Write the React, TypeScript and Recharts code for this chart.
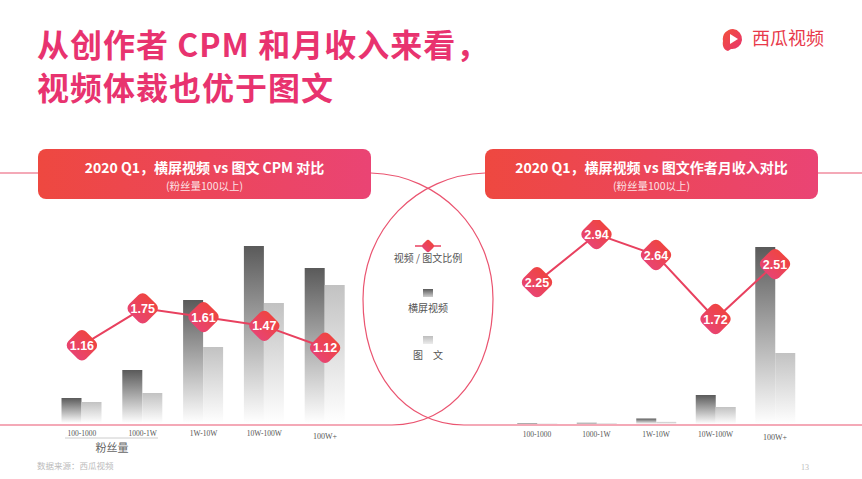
import { ComposedChart, Bar, Line, XAxis, YAxis } from "recharts";

// 粉丝量分档
const categories = ["100-1000", "1000-1W", "1W-10W", "10W-100W", "100W+"];

// CPM 对比
const cpmVideo = [25, 53, 123, 177, 155];
const cpmText = [21, 30, 76, 120, 138];
const cpmRatio = [1.16, 1.75, 1.61, 1.47, 1.12];

// 作者月收入对比
const incomeVideo = [0.5, 1.2, 5.5, 29, 177];
const incomeText = [0.22, 0.41, 2.1, 17, 71];
const incomeRatio = [2.25, 2.94, 2.64, 1.72, 2.51];

const PINK = "#e8336f";
const LINE = "#e8415f";
const SANS = "'Noto Sans CJK SC', 'Noto Sans', sans-serif";

const cpmData = categories.map((name, i) => ({
  name,
  video: cpmVideo[i],
  text: cpmText[i],
  ratio: cpmRatio[i],
}));

const incomeData = categories.map((name, i) => ({
  name,
  video: incomeVideo[i],
  text: incomeText[i],
  ratio: incomeRatio[i],
}));

function Defs({ id }: { id: string }) {
  return (
    <defs>
      <linearGradient id={`${id}-dark`} x1="0" y1="0" x2="0" y2="1">
        <stop offset="0%" stopColor="#5a5a5a" />
        <stop offset="100%" stopColor="#ffffff" />
      </linearGradient>
      <linearGradient id={`${id}-light`} x1="0" y1="0" x2="0" y2="1">
        <stop offset="0%" stopColor="#c2c2c2" />
        <stop offset="100%" stopColor="#ffffff" />
      </linearGradient>
      <linearGradient id={`${id}-mk`} x1="0" y1="0" x2="0" y2="1">
        <stop offset="0%" stopColor="#ef4441" />
        <stop offset="100%" stopColor="#e84472" />
      </linearGradient>
    </defs>
  );
}

function marker(id: string) {
  return (p: any) => {
    const { cx, cy, value, index } = p;
    if (cx == null || cy == null) return <g key={`mk-${index}`} />;
    const s = 25;
    return (
      <g key={`mk-${index}`}>
        <rect
          x={cx - s / 2}
          y={cy - s / 2}
          width={s}
          height={s}
          rx={6}
          fill={`url(#${id}-mk)`}
          transform={`rotate(45 ${cx} ${cy})`}
        />
        <text
          x={cx}
          y={cy + 4.5}
          textAnchor="middle"
          fill="#fff"
          fontSize={12.5}
          fontWeight={700}
          fontFamily="'Liberation Sans', Arial, sans-serif"
        >
          {Number(value).toFixed(2)}
        </text>
      </g>
    );
  };
}

function Tick(p: any) {
  const { x, y, payload, index } = p;
  const last = index === categories.length - 1;
  return (
    <text
      x={x}
      y={y + (last ? 16 : 13)}
      textAnchor="middle"
      fill="#555"
      fontSize={last ? 8 : 7.5}
      fontFamily="'Liberation Serif', 'DejaVu Serif', serif"
    >
      {payload.value}
    </text>
  );
}

function Chart({
  id,
  data,
  left,
  margin,
  axisHeight,
  barMax,
  ratioDomain,
}: {
  id: string;
  data: any[];
  left: number;
  margin: { top: number; right: number; bottom: number; left: number };
  axisHeight: number;
  barMax: number;
  ratioDomain: [number, number];
}) {
  return (
    <div style={{ position: "absolute", left, top: 220 }}>
      <ComposedChart
        width={330}
        height={230}
        data={data}
        margin={margin}
        barGap={0}
        barSize={20}
      >
        <Defs id={id} />
        <XAxis
          dataKey="name"
          axisLine={false}
          tickLine={false}
          tickSize={0}
          tickMargin={0}
          height={axisHeight}
          interval={0}
          tick={<Tick />}
        />
        <YAxis yAxisId="bar" hide domain={[0, barMax]} />
        <YAxis yAxisId="ratio" hide domain={ratioDomain} />
        <Bar
          yAxisId="bar"
          dataKey="video"
          fill={`url(#${id}-dark)`}
          isAnimationActive={false}
        />
        <Bar
          yAxisId="bar"
          dataKey="text"
          fill={`url(#${id}-light)`}
          isAnimationActive={false}
        />
        <Line
          yAxisId="ratio"
          dataKey="ratio"
          type="linear"
          stroke={LINE}
          strokeWidth={2}
          dot={marker(id)}
          activeDot={false}
          isAnimationActive={false}
        />
      </ComposedChart>
    </div>
  );
}

function Header({ left, title }: { left: number; title: string }) {
  return (
    <div
      style={{
        position: "absolute",
        left,
        top: 149,
        width: 333,
        height: 50,
        borderRadius: 8,
        background: "linear-gradient(90deg, #ee4840 0%, #ea4474 100%)",
        color: "#fff",
        textAlign: "center",
        fontFamily: SANS,
      }}
    >
      <div style={{ fontSize: 14, fontWeight: 700, marginTop: 8, lineHeight: "20px" }}>
        {title}
      </div>
      <div style={{ fontSize: 10.5, lineHeight: "17px", opacity: 0.85 }}>
        (粉丝量100以上)
      </div>
    </div>
  );
}

export default function App() {
  return (
    <div
      style={{
        position: "absolute",
        left: 0,
        top: 0,
        width: 862,
        height: 479,
        background: "#fff",
        overflow: "hidden",
        fontFamily: SANS,
      }}
    >
      {/* 背景线条 */}
      <svg
        width={862}
        height={479}
        style={{ position: "absolute", left: 0, top: 0 }}
      >
        <g fill="none" stroke="#ea5470" strokeWidth={1.2}>
          <path d="M 0 173 L 40 173" />
          <path d="M 816 173 L 862 173" />
          <path d="M 371 173 C 440 175, 493 230, 493 299 C 493 372, 452 425, 392 425 L 0 425" />
          <path d="M 485 173 C 416 175, 363 230, 363 299 C 363 372, 404 425, 464 425 L 862 425" />
        </g>
        <line x1={65} y1={438} x2={158} y2={438} stroke="#ccc" strokeWidth={1} />
        <text x={112} y={452} textAnchor="middle" fill="#666" fontSize={11}>
          粉丝量
        </text>
        <text x={37} y={469} fill="#bbb" fontSize={8.5}>
          数据来源：西瓜视频
        </text>
        <text
          x={805}
          y={470}
          textAnchor="middle"
          fill="#bbb"
          fontSize={8}
          fontFamily="'Liberation Serif', serif"
        >
          13
        </text>

        {/* logo */}
        <defs>
          <linearGradient id="logo" x1="0" y1="0" x2="1" y2="1">
            <stop offset="0%" stopColor="#f2513a" />
            <stop offset="100%" stopColor="#e8336f" />
          </linearGradient>
          <linearGradient id="lg-mk" x1="0" y1="0" x2="0" y2="1">
            <stop offset="0%" stopColor="#ef4441" />
            <stop offset="100%" stopColor="#e84472" />
          </linearGradient>
          <linearGradient id="lg-dark" x1="0" y1="0" x2="0" y2="1">
            <stop offset="0%" stopColor="#5a5a5a" />
            <stop offset="100%" stopColor="#cfcfcf" />
          </linearGradient>
          <linearGradient id="lg-light" x1="0" y1="0" x2="0" y2="1">
            <stop offset="0%" stopColor="#bdbdbd" />
            <stop offset="100%" stopColor="#ececec" />
          </linearGradient>
        </defs>
        <path
          d="M 733 29 A 10 10 0 1 1 731 49 L 728 51 C 724 50, 722 46, 723 41 A 10 10 0 0 1 733 29 Z"
          fill="url(#logo)"
        />
        <path d="M 730 34 L 738 39 L 730 44 Z" fill="#fff" />
        <text x={752} y={45} fill="#e8394a" fontSize={18}>
          西瓜视频
        </text>

        {/* 图例 */}
        <line x1={415} y1={246} x2={441} y2={246} stroke={LINE} strokeWidth={1.5} />
        <rect
          x={423}
          y={241}
          width={10}
          height={10}
          rx={2.5}
          fill="url(#lg-mk)"
          transform="rotate(45 428 246)"
        />
        <text x={428} y={262} textAnchor="middle" fill="#555" fontSize={10}>
          视频 / 图文比例
        </text>
        <rect x={423} y={289} width={10} height={8} fill="url(#lg-dark)" />
        <text x={428} y={312} textAnchor="middle" fill="#555" fontSize={10}>
          横屏视频
        </text>
        <rect x={423} y={336} width={10} height={8} fill="url(#lg-light)" />
        <text x={428} y={359} textAnchor="middle" fill="#555" fontSize={10}>
          图　文
        </text>
      </svg>

      {/* 标题 */}
      <div
        style={{
          position: "absolute",
          left: 37,
          top: 22,
          color: PINK,
          fontSize: 32,
          fontWeight: 700,
          lineHeight: "43px",
          letterSpacing: 1,
        }}
      >
        <div>从创作者 CPM 和月收入来看，</div>
        <div>视频体裁也优于图文</div>
      </div>

      <Header left={38} title="2020 Q1，横屏视频 vs 图文 CPM 对比" />
      <Header left={485} title="2020 Q1，横屏视频 vs 图文作者月收入对比" />

      <Chart
        id="cpm"
        data={cpmData}
        left={40}
        margin={{ top: 10, right: 14.5, bottom: 0, left: 11.5 }}
        axisHeight={27}
        barMax={193}
        ratioDomain={[-0.08, 3]}
      />
      <Chart
        id="inc"
        data={incomeData}
        left={495}
        margin={{ top: 10, right: 20.25, bottom: 0, left: 12.25 }}
        axisHeight={26}
        barMax={194}
        ratioDomain={[0.21, 3]}
      />
    </div>
  );
}
